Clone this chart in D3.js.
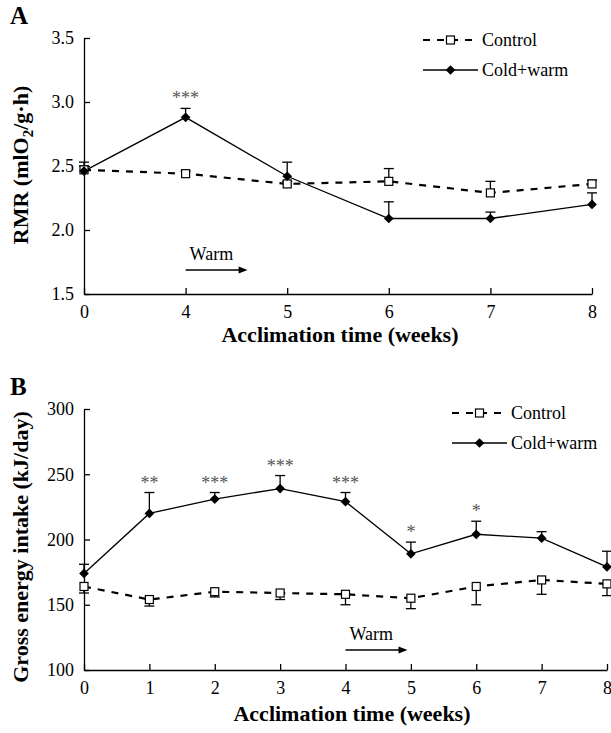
<!DOCTYPE html>
<html>
<head>
<meta charset="utf-8">
<script src="https://cdn.jsdelivr.net/npm/d3@7"></script>
<style>
  body { margin: 0; background: #fff; }
</style>
</head>
<body>
<svg id="chart" width="611" height="733" font-family="'Liberation Serif', serif"></svg>
<script>
// panel A : resting metabolic rate
let weeksA = ['0', '4', '5', '6', '7', '8']
let rmrControl = [2.47, 2.44, 2.36, 2.38, 2.29, 2.36]
let rmrControlErr = [0.06, 0.02, 0.02, 0.10, 0.09, 0.03]
let rmrCold = [2.46, 2.88, 2.42, 2.09, 2.09, 2.20]
let rmrColdErr = [0.04, 0.07, 0.11, 0.13, 0.05, 0.09]
let rmrStars = ['', '***', '', '', '', '']
let rmrTicks = [1.5, 2.0, 2.5, 3.0, 3.5]

// panel B : gross energy intake
let weeksB = ['0', '1', '2', '3', '4', '5', '6', '7', '8']
let geiControl = [164, 154, 160, 159, 158, 155, 164, 169, 166]
let geiControlErr = [5, 5, 4, 5, 8, 8, 14, 11, 9]
let geiCold = [174, 220, 231, 239, 229, 189, 204, 201, 179]
let geiColdErr = [7, 16, 5, 10, 7, 9, 10, 5, 12]
let geiStars = ['', '**', '***', '***', '***', '*', '*', '', '']
let geiTicks = [100, 150, 200, 250, 300]

let serif = "'Liberation Serif', serif"
let svg = d3.select('#chart')

function drawPanel (opt) {
  let g = svg.append('g')
  let x = d3.scalePoint().domain(opt.weeks).range([opt.x0, opt.x1])
  let y = d3.scaleLinear().domain(opt.yDomain).range([opt.y1, opt.y0])

  // axes
  let yAxis = d3.axisLeft(y).tickValues(opt.yTicks).tickFormat(opt.fmt)
    .tickSizeInner(-6).tickSizeOuter(0).tickPadding(10)
  let xAxis = d3.axisBottom(x).tickSizeInner(-6).tickSizeOuter(0).tickPadding(10)
  let ya = g.append('g').attr('transform', 'translate(' + opt.x0 + ',0)').call(yAxis)
  let xa = g.append('g').attr('transform', 'translate(0,' + opt.y1 + ')').call(xAxis)
  for (let a of [ya, xa]) {
    a.attr('font-family', serif).attr('font-size', 18)
    a.select('.domain').attr('stroke', '#000').attr('stroke-width', 1.3)
    a.selectAll('.tick line').attr('stroke', '#000').attr('stroke-width', 1.3)
    a.selectAll('.tick text').attr('fill', '#000')
  }
  xa.selectAll('.tick text').attr('dy', '0.75em')

  // error bars
  let cap = 5
  let ctrl = opt.weeks.map((w, i) => ({w: w, v: opt.control[i], e: opt.controlErr[i]}))
  let cold = opt.weeks.map((w, i) => ({w: w, v: opt.cold[i], e: opt.coldErr[i]}))
  let dir = opt.ctrlDown ? -1 : 1
  let eb = g.append('g').attr('stroke', '#000').attr('stroke-width', 1.3)
  ctrl.forEach(function (d) {
    let yy = y(d.v + dir * d.e)
    eb.append('line').attr('x1', x(d.w)).attr('x2', x(d.w)).attr('y1', y(d.v)).attr('y2', yy)
    eb.append('line').attr('x1', x(d.w) - cap).attr('x2', x(d.w) + cap).attr('y1', yy).attr('y2', yy)
  })
  cold.forEach(function (d) {
    let yy = y(d.v + d.e)
    eb.append('line').attr('x1', x(d.w)).attr('x2', x(d.w)).attr('y1', y(d.v)).attr('y2', yy)
    eb.append('line').attr('x1', x(d.w) - cap).attr('x2', x(d.w) + cap).attr('y1', yy).attr('y2', yy)
  })

  let line = d3.line().x(d => x(d.w)).y(d => y(d.v))
  g.append('path').datum(ctrl).attr('d', line)
    .attr('fill', 'none').attr('stroke', '#000').attr('stroke-width', 2.2)
    .attr('stroke-dasharray', '7,7')
  g.append('path').datum(cold).attr('d', line)
    .attr('fill', 'none').attr('stroke', '#000').attr('stroke-width', 1.3)

  g.selectAll('.sq').data(ctrl).enter().append('rect')
    .attr('x', d => x(d.w) - 4).attr('y', d => y(d.v) - 4)
    .attr('width', 8).attr('height', 8)
    .attr('fill', '#fff').attr('stroke', '#000').attr('stroke-width', 1.2)
  let diamond = d3.symbol().type(d3.symbolDiamond2).size(60)
  g.selectAll('.dm').data(cold).enter().append('path')
    .attr('d', diamond)
    .attr('transform', d => 'translate(' + x(d.w) + ',' + y(d.v) + ')')
    .attr('fill', '#000')

  // significance stars
  g.selectAll('.star').data(opt.stars.map((s, i) => ({s: s, w: opt.weeks[i], top: opt.cold[i] + opt.coldErr[i]})))
    .enter().append('text')
    .attr('x', d => x(d.w)).attr('y', d => y(d.top) - 4)
    .attr('text-anchor', 'middle').attr('font-family', serif)
    .attr('font-size', 18).attr('fill', '#555')
    .text(d => d.s)

  // warm annotation
  let wx0 = x(opt.warmFrom)
  let wx1 = wx0 + 62
  g.append('text').attr('x', wx0 + 4).attr('y', opt.warmY - 10).attr('font-family', serif)
    .attr('font-size', 18).attr('fill', '#000').text('Warm')
  g.append('line').attr('x1', wx0).attr('x2', wx1 - 6).attr('y1', opt.warmY).attr('y2', opt.warmY)
    .attr('stroke', '#000').attr('stroke-width', 1.3)
  g.append('path')
    .attr('d', 'M' + wx1 + ',' + opt.warmY + 'l-9,-3.5l0,7z').attr('fill', '#000')

  // titles
  g.append('text').attr('x', opt.xTitleX).attr('y', opt.y1 + opt.xTitleDy)
    .attr('text-anchor', 'middle').attr('font-family', serif)
    .attr('font-size', 22).attr('font-weight', 'bold')
    .text('Acclimation time (weeks)')
  let yt = g.append('text')
    .attr('transform', 'translate(' + 28 + ',' + opt.yTitleY + ') rotate(-90)')
    .attr('text-anchor', 'middle').attr('font-family', serif)
    .attr('font-size', 22).attr('font-weight', 'bold')
  opt.yTitle(yt)
  g.append('text').attr('x', 10).attr('y', opt.y0 - 14).attr('font-family', serif)
    .attr('font-size', 25).attr('font-weight', 'bold').text(opt.letter)

  // legend
  let lg = g.append('g').attr('transform', 'translate(' + opt.legX + ',' + opt.legY + ')')
    .attr('font-family', serif)
  lg.append('line').attr('x1', 0).attr('x2', 55).attr('y1', 0).attr('y2', 0)
    .attr('stroke', '#000').attr('stroke-width', 2.2).attr('stroke-dasharray', '7,7')
  lg.append('rect').attr('x', 23.5).attr('y', -4).attr('width', 8).attr('height', 8)
    .attr('fill', '#fff').attr('stroke', '#000').attr('stroke-width', 1.2)
  lg.append('text').attr('x', 59).attr('y', 6).attr('font-size', 18).text('Control')
  lg.append('line').attr('x1', 0).attr('x2', 55).attr('y1', 30).attr('y2', 30)
    .attr('stroke', '#000').attr('stroke-width', 1.3)
  lg.append('path').attr('d', diamond).attr('transform', 'translate(27.5,30)').attr('fill', '#000')
  lg.append('text').attr('x', 59).attr('y', 36).attr('font-size', 18).text('Cold+warm')
}

drawPanel({
  letter: 'A', weeks: weeksA, control: rmrControl, controlErr: rmrControlErr,
  cold: rmrCold, coldErr: rmrColdErr, stars: rmrStars, yTicks: rmrTicks,
  yDomain: [1.5, 3.5], fmt: d3.format('.1f'), ctrlDown: false,
  x0: 84, x1: 592, y0: 38, y1: 294,
  warmFrom: '4', warmY: 270,
  legX: 423, legY: 40,
  xTitleX: 340, xTitleDy: 48, yTitleY: 165,
  yTitle: function (t) {
    t.append('tspan').text('RMR (mlO')
    t.append('tspan').attr('dy', 5).attr('font-size', 15).text('2')
    t.append('tspan').attr('dy', -5).text('/g·h)')
  }
})

drawPanel({
  letter: 'B', weeks: weeksB, control: geiControl, controlErr: geiControlErr,
  cold: geiCold, coldErr: geiColdErr, stars: geiStars, yTicks: geiTicks,
  yDomain: [100, 300], fmt: d3.format('d'), ctrlDown: true,
  x0: 84, x1: 607, y0: 409, y1: 670,
  warmFrom: '4', warmY: 650,
  legX: 452, legY: 413,
  xTitleX: 352, xTitleDy: 51, yTitleY: 547,
  yTitle: function (t) {
    t.text('Gross energy intake (kJ/day)')
  }
})
</script>
</body>
</html>
